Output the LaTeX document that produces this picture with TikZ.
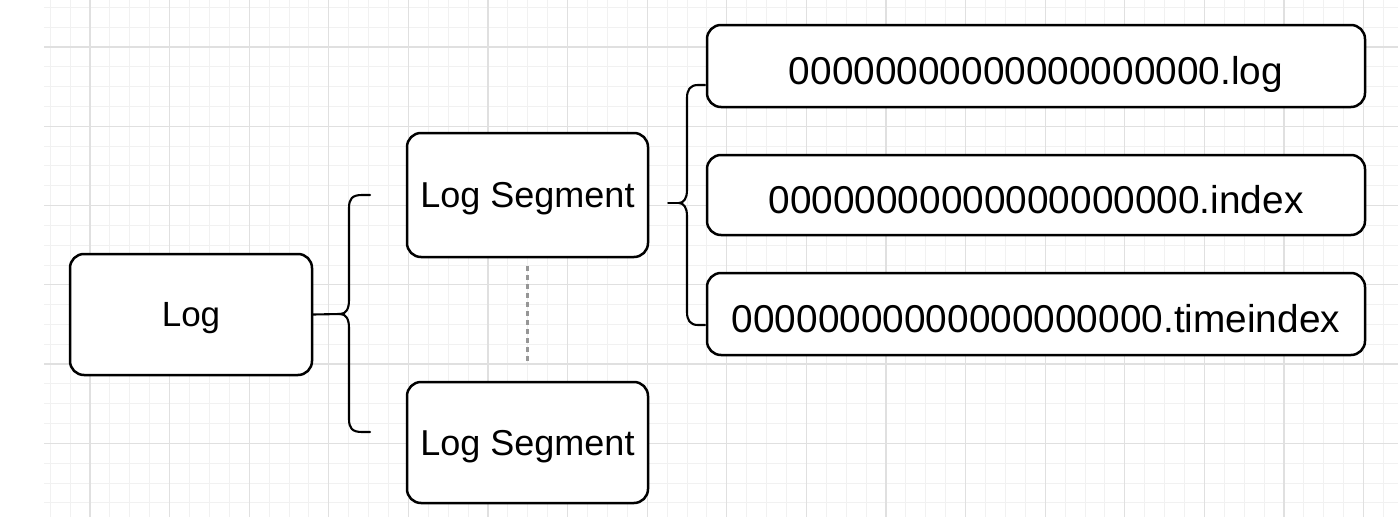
\documentclass[tikz,border=0pt]{standalone}
\usepackage{fontspec}
\setmainfont{Liberation Sans}
\usepackage{tikz}

\definecolor{gridminor}{RGB}{241,241,241}
\definecolor{gridmajor}{RGB}{224,224,224}
\definecolor{dotgray}{RGB}{150,150,150}

\tikzset{
  sketchbox/.style={draw=black, fill=white, line width=2.5pt, rounded corners=14pt, inner sep=0pt},
  bracepath/.style={draw=black, line width=2.1pt, line cap=round, line join=round},
  minorline/.style={draw=gridminor, line width=1pt},
  majorline/.style={draw=gridmajor, line width=1.3pt},
}

\begin{document}
\begin{tikzpicture}[x=1pt,y=-1pt]
\useasboundingbox (0,0) rectangle (1398,522);

%Background grid
\begin{scope}
\clip (44,0) rectangle (1398,517);
\foreach \k in {-2,...,65} \draw[minorline] ({90+19.9*\k},0) -- ({90+19.9*\k},517);
\foreach \k in {-2,...,24} \draw[minorline] (44,{47+19.82*\k}) -- (1398,{47+19.82*\k});
\foreach \k in {-1,...,17} \draw[majorline] ({90+79.6*\k},0) -- ({90+79.6*\k},517);
\foreach \k in {-1,...,6} \draw[majorline] (44,{47+79.28*\k}) -- (1398,{47+79.28*\k});
\end{scope}

%Shape: Rounded Rect
\node[sketchbox, minimum width=242pt, minimum height=121pt, text depth=-3pt, font=\fontsize{35}{42}\selectfont] (log) at (191,314.5) {Log};
%Shape: Rounded Rect
\node[sketchbox, minimum width=241pt, minimum height=124pt, text depth=-3pt, font=\fontsize{36}{43}\selectfont] (seg1) at (527.5,195) {Log Segment};
%Shape: Rounded Rect
\node[sketchbox, minimum width=241pt, minimum height=121pt, text depth=-3pt, font=\fontsize{36}{43}\selectfont] (seg2) at (527.5,442.5) {Log Segment};

%Shape: Rounded Rect
\node[sketchbox, minimum width=658pt, minimum height=82pt, text height=36pt, text depth=0pt, font=\fontsize{38.8}{46}\selectfont] (logfile) at (1036,66) {00000000000000000000.log};
%Shape: Rounded Rect
\node[sketchbox, minimum width=658pt, minimum height=80pt, text height=36pt, text depth=0pt, font=\fontsize{38.8}{46}\selectfont] (indexfile) at (1036,195) {00000000000000000000.index};
%Shape: Rounded Rect
\node[sketchbox, minimum width=658pt, minimum height=82pt, text height=36pt, text depth=0pt, font=\fontsize{38.8}{46}\selectfont] (timefile) at (1036,314) {00000000000000000000.timeindex};

%Brace tips
\coordinate (lbtip) at (340,314);
\coordinate (rbtip) at (679,203);

%Straight Lines
\draw[bracepath] (log.east) -- (lbtip);
%Curve Lines
\draw[bracepath] (370,195) -- (362,195) .. controls (352,195) and (349,199) .. (349,208) -- (349,300) .. controls (349,309) and (346,314) .. (lbtip) .. controls (346,314) and (349,319) .. (349,328) -- (349,419) .. controls (349,428) and (352,432) .. (362,432) -- (370,432);

%Straight Lines
\draw[bracepath] ([xshift=19pt,yshift=-8pt]seg1.east) -- (rbtip);
%Curve Lines
\draw[bracepath] (705,85) -- (698,85) .. controls (690,85) and (687,90) .. (687,98) -- (687,190) .. controls (687,198) and (684,203) .. (rbtip) .. controls (684,203) and (687,208) .. (687,216) -- (687,312) .. controls (687,320) and (690,325) .. (698,325) -- (705,325);

%Straight Lines
\draw[dotgray, line width=2.2pt, dash pattern=on 5pt off 4pt, shorten <=8pt, shorten >=19pt] (seg1.south) -- (seg2.north);

\end{tikzpicture}
\end{document}
